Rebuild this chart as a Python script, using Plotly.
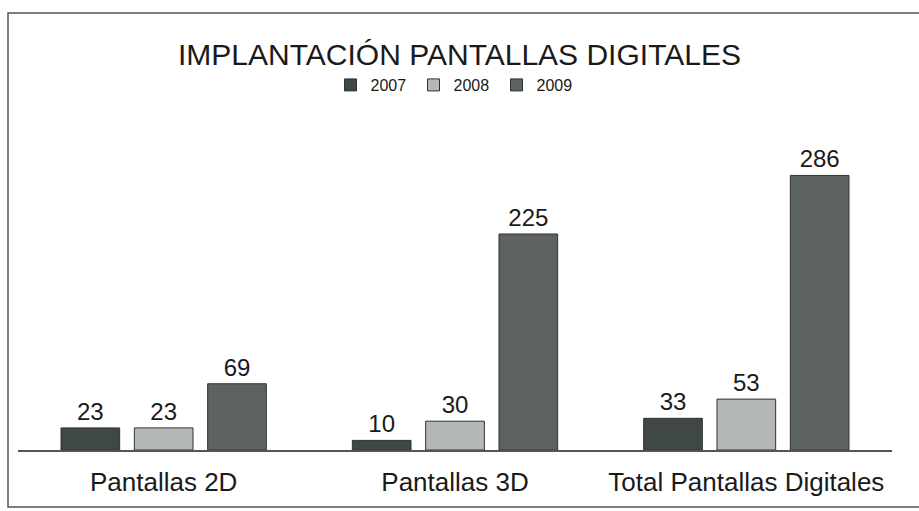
import plotly.graph_objects as go

categories = ["Pantallas 2D", "Pantallas 3D", "Total Pantallas Digitales"]
years = ["2007", "2008", "2009"]
values_2007 = [23, 10, 33]
values_2008 = [23, 30, 53]
values_2009 = [69, 225, 286]
colors = ["#404845", "#b5b9b6", "#5c6360"]

series = [values_2007, values_2008, values_2009]

FONT = "Liberation Sans, Arial, sans-serif"
W, H = 919, 511
L, R = 18, 27
base_y = 450
T = 162
B = H - base_y
ph = base_y - T
pw = W - L - R

fig = go.Figure()
for yr, vals, col in zip(years, series, colors):
    fig.add_trace(go.Bar(
        x=categories, y=vals, name=yr,
        marker=dict(color=col, line=dict(color="#2e3331", width=1)),
        text=[str(v) for v in vals], textposition="outside",
        textfont=dict(family=FONT, size=24, color="#1a1a1a"),
        cliponaxis=False,
    ))

def px_x(p):
    return (p - L) / pw

def px_y(p):
    return (base_y - p) / ph

fig.update_layout(
    width=W, height=H,
    margin=dict(l=L, r=R, t=T, b=B, autoexpand=False),
    paper_bgcolor="white", plot_bgcolor="white",
    barmode="group", bargap=0.245, bargroupgap=0.2,
    title=dict(text="IMPLANTACIÓN PANTALLAS DIGITALES", x=0.5, xanchor="center",
               y=1 - 54 / H, yanchor="middle",
               font=dict(family=FONT, size=30, color="#1a1a1a")),
    legend=dict(orientation="h", x=0.5, xanchor="center", y=px_y(85), yanchor="middle",
                font=dict(family=FONT, size=16, color="#1a1a1a"),
                itemwidth=30, entrywidth=38, bgcolor="rgba(0,0,0,0)", traceorder="normal"),
    xaxis=dict(showline=True, linecolor="#555", linewidth=1.5, ticks="", showgrid=False,
               automargin=False,
               tickfont=dict(family=FONT, size=26, color="#1a1a1a"),
               ticklabelstandoff=8),
    yaxis=dict(range=[0, 300], visible=False, showgrid=False, zeroline=False, automargin=False),
    showlegend=True,
    shapes=[dict(type="rect", xref="paper", yref="paper",
                 x0=px_x(8), x1=px_x(935), y0=px_y(507), y1=px_y(13),
                 line=dict(color="#555", width=1.5), layer="below")],
)

fig.write_html("out.html", config={"displayModeBar": False},
               post_script="document.body.style.margin='0';document.body.style.overflow='hidden';")
